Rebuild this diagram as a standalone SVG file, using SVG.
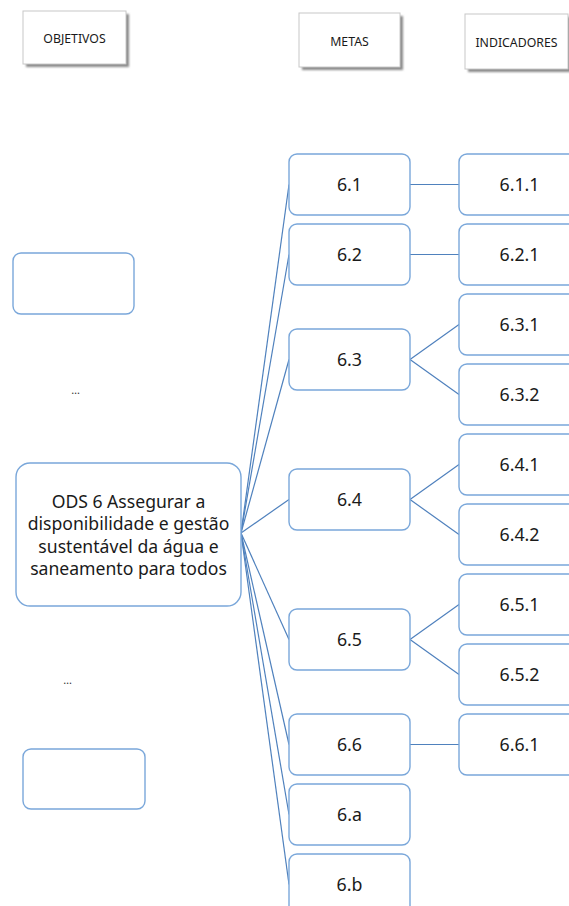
<svg xmlns="http://www.w3.org/2000/svg" width="569" height="906" viewBox="0 0 569 906">
<style>
.hdr{fill:#fff;stroke:#c8c8c8;stroke-width:1}
.hdrt{font-family:"Noto Sans","Liberation Sans",sans-serif;font-size:12.3px;fill:#1a1a1a;text-anchor:middle}
.box{fill:#fff;stroke:#7aa7da;stroke-width:1.4}
.t{font-family:"Noto Sans","Liberation Sans",sans-serif;font-size:17.8px;fill:#1a1a1a;text-anchor:middle}
.ods{font-family:"Noto Sans","Liberation Sans",sans-serif;font-size:17.6px;fill:#1a1a1a;text-anchor:middle}
.dots{font-family:"Noto Sans","Liberation Sans",sans-serif;font-size:11px;fill:#333;text-anchor:middle}
.ln{fill:none;stroke:#4f81bd;stroke-width:1.2}
</style>
<defs>
<filter id="sh" x="-20%" y="-20%" width="140%" height="140%">
<feGaussianBlur stdDeviation="1.2"/>
</filter>
</defs>
<rect width="569" height="906" fill="#fff"/>

<g id="hdr-objetivos">
<rect x="26" y="14" width="103" height="53" fill="#8a8a8a" filter="url(#sh)"/>
<rect class="hdr" x="23" y="11" width="103" height="53"/>
<text class="hdrt" x="74.5" y="43">OBJETIVOS</text>
</g>
<g id="hdr-metas">
<rect x="302" y="16" width="101" height="54" fill="#8a8a8a" filter="url(#sh)"/>
<rect class="hdr" x="299" y="13" width="101" height="54"/>
<text class="hdrt" x="349.5" y="46">METAS</text>
</g>
<g id="hdr-indicadores">
<rect x="468" y="17" width="103" height="55" fill="#8a8a8a" filter="url(#sh)"/>
<rect class="hdr" x="465" y="14" width="103" height="55"/>
<text class="hdrt" x="516.5" y="47">INDICADORES</text>
</g>

<g id="connectors">
<line class="ln" x1="241" y1="533" x2="289" y2="184.5"/>
<line class="ln" x1="241" y1="533" x2="289" y2="254.5"/>
<line class="ln" x1="241" y1="533" x2="289" y2="359.5"/>
<line class="ln" x1="241" y1="533" x2="289" y2="499.5"/>
<line class="ln" x1="241" y1="533" x2="289" y2="639.5"/>
<line class="ln" x1="241" y1="533" x2="289" y2="744.5"/>
<line class="ln" x1="241" y1="533" x2="289" y2="814.5"/>
<line class="ln" x1="241" y1="533" x2="289" y2="884.5"/>
<line class="ln" x1="410" y1="184.5" x2="459" y2="184.5"/>
<line class="ln" x1="410" y1="254.5" x2="459" y2="254.5"/>
<line class="ln" x1="410" y1="359.5" x2="459" y2="324.5"/>
<line class="ln" x1="410" y1="359.5" x2="459" y2="394.5"/>
<line class="ln" x1="410" y1="499.5" x2="459" y2="464.5"/>
<line class="ln" x1="410" y1="499.5" x2="459" y2="534.5"/>
<line class="ln" x1="410" y1="639.5" x2="459" y2="604.5"/>
<line class="ln" x1="410" y1="639.5" x2="459" y2="674.5"/>
<line class="ln" x1="410" y1="744.5" x2="459" y2="744.5"/>
</g>

<g id="obj-empty-1"><rect class="box" x="13" y="253" width="121" height="61" rx="8"/></g>
<g id="dots-1"><text class="dots" x="75.5" y="394">…</text></g>
<g id="ods6">
<rect class="box" x="16" y="463" width="225" height="143" rx="14"/>
<text class="ods" x="128.5" y="508">ODS 6 Assegurar a</text>
<text class="ods" x="128.5" y="530">disponibilidade e gestão</text>
<text class="ods" x="128.5" y="553">sustentável da água e</text>
<text class="ods" x="128.5" y="575">saneamento para todos</text>
</g>
<g id="dots-2"><text class="dots" x="67.5" y="684">…</text></g>
<g id="obj-empty-2"><rect class="box" x="23" y="749" width="122" height="60" rx="8"/></g>

<g id="m61"><rect class="box" x="289" y="154" width="121" height="61" rx="8"/><text class="t" x="349.5" y="191">6.1</text></g>
<g id="m62"><rect class="box" x="289" y="224" width="121" height="61" rx="8"/><text class="t" x="349.5" y="261">6.2</text></g>
<g id="m63"><rect class="box" x="289" y="329" width="121" height="61" rx="8"/><text class="t" x="349.5" y="366">6.3</text></g>
<g id="m64"><rect class="box" x="289" y="469" width="121" height="61" rx="8"/><text class="t" x="349.5" y="506">6.4</text></g>
<g id="m65"><rect class="box" x="289" y="609" width="121" height="61" rx="8"/><text class="t" x="349.5" y="646">6.5</text></g>
<g id="m66"><rect class="box" x="289" y="714" width="121" height="61" rx="8"/><text class="t" x="349.5" y="751">6.6</text></g>
<g id="m6a"><rect class="box" x="289" y="784" width="121" height="61" rx="8"/><text class="t" x="349.5" y="821">6.a</text></g>
<g id="m6b"><rect class="box" x="289" y="854" width="121" height="61" rx="8"/><text class="t" x="349.5" y="891">6.b</text></g>

<g id="i611"><rect class="box" x="459" y="154" width="121" height="61" rx="8"/><text class="t" x="519.5" y="191">6.1.1</text></g>
<g id="i621"><rect class="box" x="459" y="224" width="121" height="61" rx="8"/><text class="t" x="519.5" y="261">6.2.1</text></g>
<g id="i631"><rect class="box" x="459" y="294" width="121" height="61" rx="8"/><text class="t" x="519.5" y="331">6.3.1</text></g>
<g id="i632"><rect class="box" x="459" y="364" width="121" height="61" rx="8"/><text class="t" x="519.5" y="401">6.3.2</text></g>
<g id="i641"><rect class="box" x="459" y="434" width="121" height="61" rx="8"/><text class="t" x="519.5" y="471">6.4.1</text></g>
<g id="i642"><rect class="box" x="459" y="504" width="121" height="61" rx="8"/><text class="t" x="519.5" y="541">6.4.2</text></g>
<g id="i651"><rect class="box" x="459" y="574" width="121" height="61" rx="8"/><text class="t" x="519.5" y="611">6.5.1</text></g>
<g id="i652"><rect class="box" x="459" y="644" width="121" height="61" rx="8"/><text class="t" x="519.5" y="681">6.5.2</text></g>
<g id="i661"><rect class="box" x="459" y="714" width="121" height="61" rx="8"/><text class="t" x="519.5" y="751">6.6.1</text></g>
</svg>
